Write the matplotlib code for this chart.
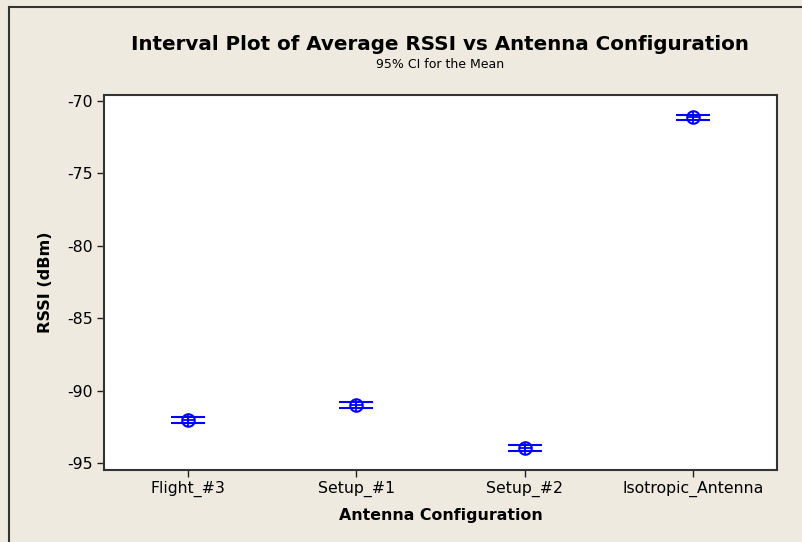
import matplotlib.pyplot as plt
import matplotlib.lines as mlines
import numpy as np

plt.rcParams['axes.unicode_minus'] = False

configs = ["Flight_#3", "Setup_#1", "Setup_#2", "Isotropic_Antenna"]
mean_rssi = [-92.0, -90.95, -93.95, -71.15]
ci_half = [0.2, 0.2, 0.2, 0.2]

bg = '#EEEAE0'
blue = '#0000FF'

fig = plt.figure(figsize=(8.03, 5.42), dpi=100, facecolor=bg)
W, H = 803, 542
ax = fig.add_axes([104 / W, 1 - 470 / H, (777 - 104) / W, (470 - 95) / H])

x = np.arange(1, len(configs) + 1)
ax.errorbar(x, mean_rssi, yerr=ci_half, fmt='none', ecolor=blue,
            elinewidth=1.2, capsize=12, capthick=1.5)
ax.plot(x, mean_rssi, 'o', ms=9, mfc='none', mec=blue, mew=1.5)
ax.plot(x, mean_rssi, '+', ms=9, color=blue, mew=1.3)

ax.set_xlim(0.5, 4.5)
ax.set_ylim(-95.45, -69.6)
ax.set_xticks(x)
ax.set_xticklabels(configs)
ax.set_yticks([-70, -75, -80, -85, -90, -95])
ax.tick_params(labelsize=11.3, length=5, width=1, color='#222222', pad=3)
for s in ax.spines.values():
    s.set_linewidth(1.5)
    s.set_color('#333333')

ax.set_xlabel("Antenna Configuration", fontsize=11.4, fontweight='bold', labelpad=8)
ax.set_ylabel("RSSI (dBm)", fontsize=11.6, fontweight='bold', labelpad=10)

fig.text(440 / W, 1 - 45 / H, "Interval Plot of Average RSSI vs Antenna Configuration",
         ha='center', va='center', fontsize=14.3, fontweight='bold')
fig.text(440 / W, 1 - 64 / H, "95% CI for the Mean", ha='center', va='center', fontsize=9)

# outer frame (left and top visible)
fig.add_artist(mlines.Line2D([9 / W, 9 / W], [0, 1 - 7 / H], color='#333333', lw=1.5))
fig.add_artist(mlines.Line2D([9 / W, 1], [1 - 7 / H, 1 - 7 / H], color='#333333', lw=1.5))

fig.savefig("out.png", dpi=100, facecolor=bg)
